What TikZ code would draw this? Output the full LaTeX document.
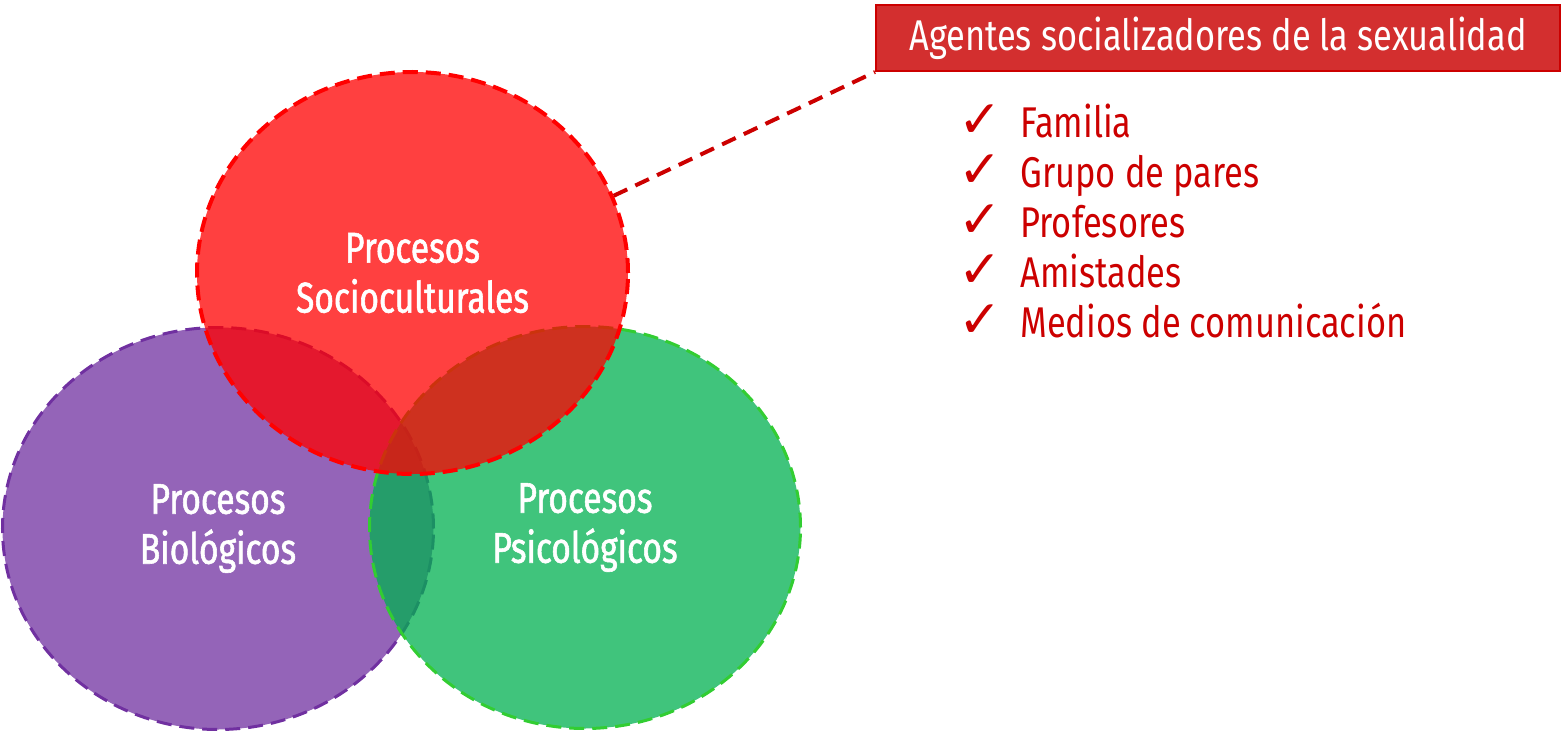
\documentclass[tikz,border=0pt]{standalone}
\usepackage{fontspec}
\setmainfont{Fira Sans}[FakeStretch=0.8]
\newfontfamily\vennfont{Fira Sans}[FakeStretch=0.78, FakeBold=1.3]
\newfontfamily\symfont{DejaVu Sans}
\usetikzlibrary{shapes.geometric}
\definecolor{vred}{RGB}{255,0,0}
\definecolor{vgreen}{RGB}{0,176,80}
\definecolor{vgreenline}{RGB}{50,205,50}
\definecolor{vpurple}{RGB}{112,48,160}
\definecolor{boxred}{RGB}{211,47,47}
\definecolor{txtred}{RGB}{204,0,0}
\begin{document}
\begin{tikzpicture}[x=0.5pt,y=-0.5pt,
  venn/.style={ellipse, inner sep=0pt, minimum width=215.5pt, minimum height=201pt,
    fill opacity=0.75, text opacity=1, dash pattern=on 7.5pt off 4pt, line width=1.8pt,
    text=white, align=center, font=\vennfont\fontsize{21.5}{25}\selectfont},
  titlebox/.style={draw=txtred, fill=boxred, line width=1pt, minimum width=342pt,
    minimum height=33pt, inner sep=0pt, text=white, font=\fontsize{21.5}{25}\selectfont},
  item/.style={anchor=base west, inner sep=0pt, text=txtred, font=\fontsize{21.5}{25}\selectfont},
  checkmark/.style={anchor=base west, inner sep=0pt, text=txtred, font=\symfont\fontsize{26}{30}\selectfont},
  connector/.style={draw=txtred, line width=2pt, dash pattern=on 7.5pt off 4.5pt}
]
\useasboundingbox (0,0) rectangle (1561,733);
\node[venn, fill=vpurple, draw=vpurple, line width=1.5pt] (bio) at (218,528.5) {Procesos\\Biológicos};
\node[venn, fill=vgreen, draw=vgreenline, line width=1.5pt] (psi) at (585,527.5) {Procesos\\Psicológicos};
\node[venn, fill=vred, draw=vred, line width=2pt] (soc) at (412.5,273) {Procesos\\Socioculturales};
\node[titlebox] (title) at (1218,38) {Agentes socializadores de la sexualidad};
\draw[connector] (soc.21) -- (title.south west);
\node[checkmark] (c1) at (958,137) {✓};
\node[checkmark] (c2) at (958,187) {✓};
\node[checkmark] (c3) at (958,237) {✓};
\node[checkmark] (c4) at (958,287) {✓};
\node[checkmark] (c5) at (958,337) {✓};
\node[item] (i1) at (1020,137) {Familia};
\node[item] (i2) at (1020,187) {Grupo de pares};
\node[item] (i3) at (1020,237) {Profesores};
\node[item] (i4) at (1020,287) {Amistades};
\node[item] (i5) at (1020,337) {Medios de comunicación};
\end{tikzpicture}
\end{document}
